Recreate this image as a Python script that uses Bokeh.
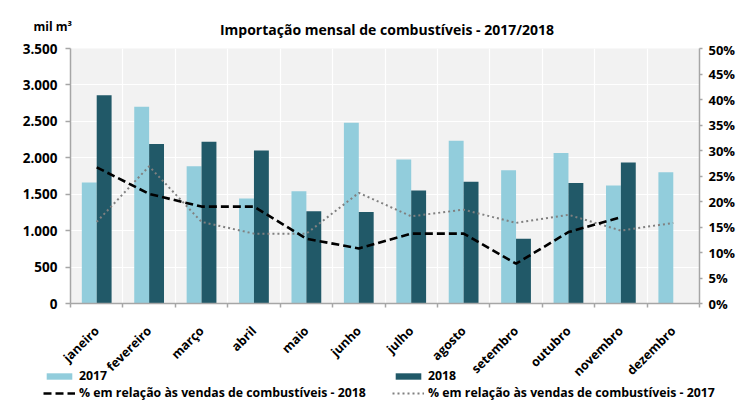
import math
from bokeh.plotting import figure
from bokeh.layouts import column
from bokeh.models import (Range1d, LinearAxis, FixedTicker, Legend, LegendItem, Label,
                          ColumnDataSource)
from bokeh.transform import dodge
from bokeh.embed import file_html
from bokeh.resources import INLINE

# ---------------- data ----------------
months = ["janeiro", "fevereiro", "março", "abril", "maio", "junho", "julho",
          "agosto", "setembro", "outubro", "novembro", "dezembro"]
imp_2017 = [1660, 2700, 1885, 1440, 1540, 2480, 1975, 2235, 1830, 2065, 1620, 1800]
imp_2018 = [2860, 2190, 2220, 2100, 1265, 1255, 1550, 1670, 890, 1655, 1935]
pct_2018 = [26.7, 21.5, 19.0, 19.0, 12.7, 10.8, 13.7, 13.7, 7.8, 14.0, 16.9]
pct_2017 = [16.0, 26.9, 16.0, 13.7, 13.7, 21.7, 17.1, 18.4, 15.8, 17.4, 14.3, 15.8]

left_ticks = [0, 500, 1000, 1500, 2000, 2500, 3000, 3500]
left_tick_labels = ["0", "500", "1.000", "1.500", "2.000", "2.500", "3.000", "3.500"]
right_ticks = [0, 5, 10, 15, 20, 25, 30, 35, 40, 45, 50]
right_tick_labels = ["0%", "5%", "10%", "15%", "20%", "25%", "30%", "35%", "40%", "45%", "50%"]

title_text = "Importação mensal de combustíveis - 2017/2018"
unit_text = "mil m³"
label_2017 = "2017"
label_2018 = "2018"
label_pct_2018 = "% em relação às vendas de combustíveis - 2018"
label_pct_2017 = "% em relação às vendas de combustíveis - 2017"

# ---------------- styling ----------------
FONT = "Open Sans"
C17 = "#92CDDC"
C18 = "#215968"
AXIS_C = "#a6a6a6"
W = 738
HEAD_H = 40
MAIN_H = 348
FOOT_H = 34
FOOT_OVERLAP = 21

n = len(months)
centers = [i + 0.5 for i in range(n)]
src17 = ColumnDataSource(dict(x=centers, y=imp_2017))
src18 = ColumnDataSource(dict(x=centers[:len(imp_2018)], y=imp_2018))
srcp18 = ColumnDataSource(dict(x=centers[:len(pct_2018)], y=pct_2018))
srcp17 = ColumnDataSource(dict(x=centers[:len(pct_2017)], y=pct_2017))


def no_align(f):
    if "frame_align" in f.properties():
        f.frame_align = False
    return f


def blank_figure(h):
    f = figure(width=W, height=h, x_range=Range1d(0, W), y_range=Range1d(0, h),
               x_axis_location=None, y_axis_location=None,
               min_border=0, output_backend="svg", toolbar_location=None, tools="")
    f.grid.visible = False
    f.outline_line_color = None
    f.background_fill_alpha = 0
    f.border_fill_alpha = 0
    return no_align(f)


# ---------------- header (title + unit) ----------------
head = blank_figure(HEAD_H)
head.add_layout(Label(x=386.5, y=HEAD_H - 29.3, text=title_text,
                      text_align="center", text_baseline="alphabetic", text_font=FONT,
                      text_font_style="bold", text_font_size="14px", text_color="black"))
head.add_layout(Label(x=33, y=HEAD_H - 26, text=unit_text,
                      text_align="left", text_baseline="alphabetic", text_font=FONT,
                      text_font_style="bold", text_font_size="12px", text_color="black"))

# ---------------- main chart ----------------
chart = figure(width=W, height=MAIN_H,
               min_border_left=70, min_border_right=35, min_border_top=8, min_border_bottom=84,
               x_range=Range1d(0, n), y_range=Range1d(0, 3500),
               output_backend="svg", toolbar_location=None, tools="")
no_align(chart)
chart.extra_y_ranges = {"pct": Range1d(0, 50)}
chart.background_fill_color = "#f2f2f2"
chart.border_fill_color = "white"
chart.outline_line_color = None

bw = 0.284
BAR17 = dict(width=bw, fill_color=C17, line_color=None)
BAR18 = dict(width=bw, fill_color=C18, line_color=None)
chart.vbar(x=dodge("x", -bw / 2, range=chart.x_range), top="y", source=src17, **BAR17)
chart.vbar(x=dodge("x", bw / 2, range=chart.x_range), top="y", source=src18, **BAR18)

DOT = dict(line_color="#808080", line_width=2, line_dash="2 3", line_cap="butt")
DASH = dict(line_color="black", line_width=2.6, line_dash="8 4")
chart.line(x="x", y="y", source=srcp17, y_range_name="pct", **DOT)
chart.line(x="x", y="y", source=srcp18, y_range_name="pct", **DASH)

chart.xgrid.ticker = FixedTicker(ticks=list(range(n + 1)))
chart.xgrid.grid_line_color = "white"
chart.xgrid.grid_line_width = 1.2
chart.ygrid.ticker = FixedTicker(ticks=left_ticks)
chart.ygrid.grid_line_color = "white"
chart.ygrid.grid_line_width = 1.2

xa = chart.xaxis[0]
xa.ticker = FixedTicker(ticks=centers, minor_ticks=list(range(n + 1)))
xa.major_label_overrides = {c: m for c, m in zip(centers, months)}
xa.major_label_orientation = math.pi / 4
xa.major_tick_line_color = None
xa.major_tick_out = 0
xa.major_tick_in = 0
xa.minor_tick_out = 4
xa.minor_tick_in = 0
xa.minor_tick_line_color = AXIS_C
xa.minor_tick_line_width = 1.5
xa.axis_line_color = AXIS_C
xa.axis_line_width = 1.5
xa.major_label_standoff = 21
xa.major_label_text_font = FONT
xa.major_label_text_font_style = "bold"
xa.major_label_text_font_size = "12.5px"
xa.major_label_text_color = "black"

ya = chart.yaxis[0]
ya.ticker = FixedTicker(ticks=left_ticks)
ya.major_label_overrides = {t: s for t, s in zip(left_ticks, left_tick_labels)}
ya.minor_tick_line_color = None
ya.major_tick_out = 5
ya.major_tick_in = 0
ya.major_tick_line_color = AXIS_C
ya.major_tick_line_width = 1.5
ya.axis_line_color = AXIS_C
ya.axis_line_width = 1.5
ya.major_label_standoff = 8
ya.major_label_text_font = FONT
ya.major_label_text_font_style = "bold"
ya.major_label_text_font_size = "13.5px"
ya.major_label_text_color = "black"

ra = LinearAxis(y_range_name="pct", ticker=FixedTicker(ticks=right_ticks))
ra.major_label_overrides = {t: s for t, s in zip(right_ticks, right_tick_labels)}
ra.minor_tick_line_color = None
ra.major_tick_out = 3
ra.major_tick_in = 0
ra.major_tick_line_color = AXIS_C
ra.major_tick_line_width = 1.5
ra.axis_line_color = AXIS_C
ra.axis_line_width = 1.5
ra.major_label_standoff = 6
ra.major_label_text_font = FONT
ra.major_label_text_font_style = "bold"
ra.major_label_text_font_size = "13px"
ra.major_label_text_color = "black"
chart.add_layout(ra, "right")

# ---------------- footer (legend) ----------------
foot = blank_figure(FOOT_H)
foot.styles = {"margin-top": f"-{FOOT_OVERLAP}px"}
# hidden proxies of the chart's series, used only for the legend swatches
g17 = foot.vbar(x="x", top="y", source=src17, visible=False, **BAR17)
g18 = foot.vbar(x="x", top="y", source=src18, visible=False, **BAR18)
gd = foot.line(x="x", y="y", source=srcp18, visible=False, **DASH)
gp = foot.line(x="x", y="y", source=srcp17, visible=False, **DOT)


def make_legend(label, renderer, loc):
    return Legend(items=[LegendItem(label=label, renderers=[renderer])], location=loc,
                  glyph_width=32, glyph_height=8, label_standoff=4, spacing=0,
                  label_height=12, padding=0, margin=0,
                  border_line_color=None, background_fill_alpha=0,
                  inactive_fill_alpha=0, click_policy="none",
                  label_text_font=FONT, label_text_font_style="bold",
                  label_text_font_size="12.3px", label_text_color="black")


ROW1_Y = 17
ROW2_Y = 0
COL1_X = 43
COL2_X = 392
foot.add_layout(make_legend(label_2017, g17, (COL1_X, ROW1_Y)))
foot.add_layout(make_legend(label_pct_2018, gd, (COL1_X, ROW2_Y)))
foot.add_layout(make_legend(label_2018, g18, (COL2_X, ROW1_Y)))
foot.add_layout(make_legend(label_pct_2017, gp, (COL2_X, ROW2_Y)))

p = column(head, chart, foot, spacing=0)
open("out.html", "w").write(file_html(p, INLINE))
